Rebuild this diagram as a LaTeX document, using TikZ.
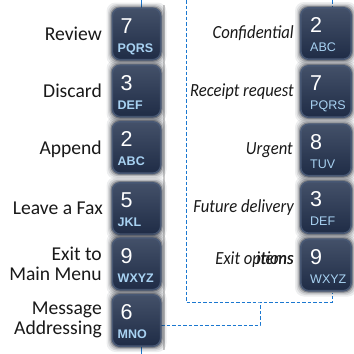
\documentclass[tikz,border=0pt]{standalone}
\usepackage{fontspec}
\setmainfont{Carlito}
\newfontfamily\condit[FakeStretch=0.9]{Carlito}
\newfontfamily\keyfont{Liberation Sans}
\usetikzlibrary{calc}
\definecolor{keyfill}{HTML}{1F2C46}
\definecolor{keyrim}{HTML}{485874}
\definecolor{keyshadow}{HTML}{0E1420}
\definecolor{lettcol}{HTML}{A8D2F2}
\definecolor{linkblue}{HTML}{1B78D0}
\definecolor{panelgray}{HTML}{CACACA}
\tikzset{
  keybox/.style={rounded corners=8pt, minimum height=51.5pt, inner sep=0pt,
    top color=keyfill!85!white!60!keyrim, bottom color=keyfill, draw=keyrim, line width=1.6pt},
  digitlab/.style={font=\keyfont\fontsize{21.5}{21.5}\selectfont, text=white, inner sep=0pt},
  lettlab/.style={font=\keyfont\bfseries\fontsize{12.5}{13}\selectfont, text=lettcol, inner sep=0pt},
  lab/.style={font=\fontsize{19.6}{20}\selectfont, inner sep=0pt, align=right, text=black!90},
  ilab/.style={font=\condit\fontsize{18.5}{20}\selectfont\itshape, inner sep=0pt, align=right, text=black!90},
  conn/.style={draw=linkblue, line width=0.9pt, dash pattern=on 3.5pt off 2pt},
  stub/.style={draw=linkblue, line width=0.9pt},
}
% name, x, y, width, digit, letters, letter offset, digit offset
\newcommand{\Keycap}[8]{%
  \foreach \s/\o in {5/0.07,3.5/0.1,2.2/0.16,1/0.3}{%
    \fill[keyshadow,opacity=\o,rounded corners=9pt]
      ({#2-#4/2-\s},{#3-26.5-\s}) rectangle ({#2+#4/2+\s},{#3+26.5+\s});}
  \node[keybox, minimum width=#4pt-1.6pt] (#1) at (#2,#3) {};
  \node[digitlab, anchor=base west] at ($(#1.west)+(#8,-1)$) {#5};
  \node[lettlab, anchor=base west] at ($(#1.west)+(#7,18)$) {#6};
}
\begin{document}
\begin{tikzpicture}[x=1pt,y=-1pt]
\useasboundingbox[fill=white] (0,0) rectangle (354,354);
% panel edge
\draw[panelgray, line width=2.2pt] (164,5) -- (164,350);
% blue stubs and connectors (under keys)
\coordinate (t1) at (141,0);
\coordinate (b1) at (141,354);
\coordinate (t2) at (332,0);
\coordinate (topR) at (186,0);
\coordinate (j) at (260,302);
\coordinate (R5b) at (332,293);
\coordinate (L6c) at (161,325);
\draw[stub] (t1) -- ++(0,8);
\draw[stub] (b1) -- ++(0,-8);
\draw[conn] (t2) -- ++(0,8);
\draw[conn] (topR) |- (j) -| (R5b);
\draw[conn] (L6c) -| (j);
% left keys
\Keycap{L1}{136.5}{34}{50}{7}{PQRS}{6}{9}
\Keycap{L2}{136.5}{91}{50}{3}{DEF}{6}{9}
\Keycap{L3}{136.5}{147.5}{50}{2}{ABC}{6}{9}
\Keycap{L4}{136.5}{208.5}{50}{5}{JKL}{6}{9}
\Keycap{L5}{136.5}{264}{50}{9}{WXYZ}{6}{9}
\Keycap{L6}{136.5}{320.5}{50}{6}{MNO}{6}{9}
% right keys
\tikzset{lettlab/.append style={font=\keyfont\fontsize{12.5}{13}\selectfont}}
\Keycap{R1}{326}{33.5}{52}{2}{ABC}{10}{10}
\Keycap{R2}{326}{91.5}{52}{7}{PQRS}{10}{10}
\Keycap{R3}{326}{150}{52}{8}{TUV}{10}{10}
\Keycap{R4}{326}{207.5}{52}{3}{DEF}{10}{10}
\Keycap{R5}{326}{265}{52}{9}{WXYZ}{10}{10}
% left labels
\node[lab, anchor=base east] (lRev) at (102,40) {Review};
\node[lab, anchor=base east] (lDis) at (102,97.5) {Discard};
\node[lab, anchor=base east] (lApp) at (102,154) {Append};
\node[lab, anchor=base east] (lFax) at (103,214.5) {Leave a Fax};
\node[lab, anchor=east] (lExitM) at (102,263.5) {Exit to\\Main Menu};
\node[lab, anchor=east] (lMsg) at (102,320) {Message\\Addressing};
% right labels
\node[ilab, anchor=base east] (rCon) at (294,38) {Confidential};
\node[ilab, anchor=base east] (rRec) at (294,96) {Receipt request};
\node[ilab, anchor=base east] (rUrg) at (293,154.5) {Urgent};
\node[ilab, anchor=base east] (rFut) at (294,212) {Future delivery};
\node[ilab, anchor=base east] (rExit) at (294,264) {Exit options};
\node[ilab, anchor=base east] (rItems) at (293.5,264) {items};
\end{tikzpicture}
\end{document}
